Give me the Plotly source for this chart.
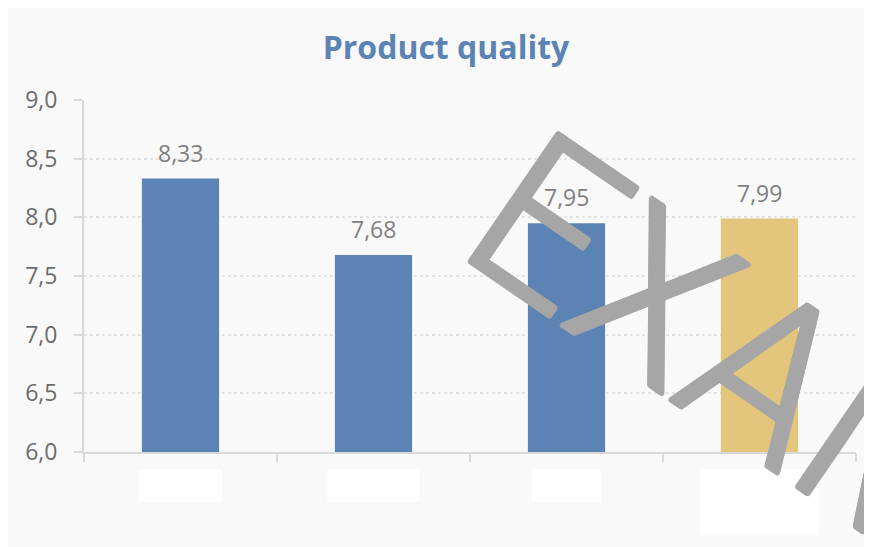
import plotly.graph_objects as go

# ---- data ----
categories = ["Category 1", "Category 2", "Category 3", "Category 4"]
values = [8.33, 7.68, 7.95, 7.99]
bar_colors = ["#5b84b5", "#5b84b5", "#5b84b5", "#e3c67b"]
y_ticks = [6.0, 6.5, 7.0, 7.5, 8.0, 8.5, 9.0]
title_text = "Product quality"
watermark_text = "EXAMPLE"

# ---- layout constants (redacted label boxes: half-width in category units, bottom in paper units) ----
redact_half = [0.215, 0.238, 0.179, 0.308]
redact_bottom = [-0.142, -0.142, -0.142, -0.236]

W, H = 872, 547
L, R, T, B = 76, 24, 92, 103
FONT = "Open Sans"
WM_COLOR = "#a6a6a6"
wm_shadow = ", ".join(f"{dx}px {dy}px 0 {WM_COLOR}" for dx, dy in
                      [(2, 0), (-2, 0), (0, 2), (0, -2), (1.5, 1.5), (-1.5, 1.5), (1.5, -1.5), (-1.5, -1.5)])

fig = go.Figure()
fig.add_trace(go.Bar(
    x=categories, y=values,
    marker=dict(color=bar_colors, line=dict(width=0)),
    hoverinfo="skip",
))

shapes = []
for i, c in enumerate(categories):
    shapes.append(dict(type="rect", xref="x", yref="paper",
                       x0=i - redact_half[i], x1=i + redact_half[i],
                       y0=redact_bottom[i], y1=-0.0483,
                       fillcolor="#ffffff", line=dict(width=0), layer="above"))

annotations = [
    dict(text=watermark_text, xref="paper", yref="paper", x=1.048, y=-0.027,
         xanchor="center", yanchor="middle", textangle=34.5, showarrow=False,
         font=dict(family="Roboto", size=220, color=WM_COLOR, weight=300, shadow=wm_shadow)),
]
for c, v in zip(categories, values):
    annotations.append(dict(text=f"{v:.2f}".replace(".", ","), x=c, y=v,
                            xref="x", yref="y", yanchor="bottom", yshift=8,
                            showarrow=False,
                            font=dict(family=FONT, size=23, color="#808080")))

fig.update_layout(
    width=W, height=H,
    margin=dict(l=L, r=R, t=T, b=B, autoexpand=False),
    paper_bgcolor="#f9f9f9", plot_bgcolor="rgba(0,0,0,0)",
    separators=",.",
    showlegend=False,
    bargap=0.6,
    font=dict(family=FONT, color="#6b6b6b"),
    title=dict(text=f"<b>{title_text}</b>", x=438 / W, y=1 - 40 / H,
               xref="container", yref="container", xanchor="center", yanchor="middle",
               font=dict(family=FONT, size=32, color="#5b84b5")),
    shapes=shapes,
    annotations=annotations,
)
fig.update_xaxes(
    showline=True, linecolor="#d9d9d9", linewidth=2,
    ticks="outside", tickson="boundaries", ticklen=8, tickcolor="#d9d9d9", tickwidth=2,
    showticklabels=False, showgrid=False,
)
fig.update_yaxes(
    range=[6, 9], tickvals=y_ticks, tickformat=".1f",
    showline=True, linecolor="#d9d9d9", linewidth=2,
    ticks="outside", ticklen=8, tickcolor="#d9d9d9", tickwidth=2,
    tickfont=dict(family=FONT, size=23, color="#6b6b6b"),
    ticklabelstandoff=12,
    showgrid=True, gridcolor="#e2e2e2", gridwidth=1.5, griddash="dot",
    zeroline=False,
)

fig.write_html("out.html")
